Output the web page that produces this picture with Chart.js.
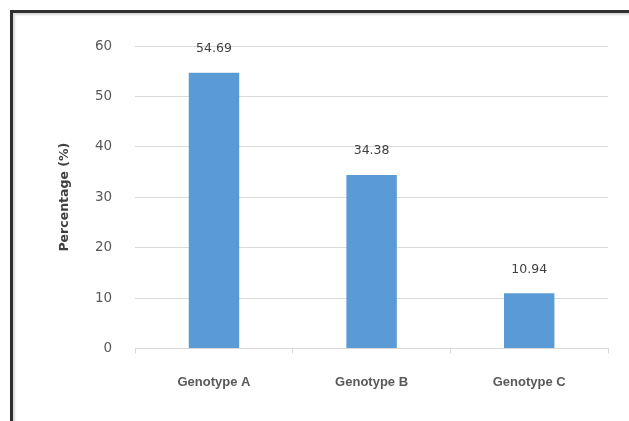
<!DOCTYPE html>
<html>
<head>
<meta charset="utf-8">
<script src="https://cdn.jsdelivr.net/npm/chart.js@4/dist/chart.umd.min.js"></script>
<style>
  html, body { margin: 0; padding: 0; background: #fff; }
  #wrap { position: relative; width: 629px; height: 421px; overflow: hidden; }
  #frame {
    position: absolute; left: 10px; top: 10px; right: -5px; bottom: -5px;
    border-top: 3px solid #2e2e2e; border-left: 3px solid #2e2e2e;
    box-shadow: inset 2px 2px 2px #d8d8d8;
  }
  canvas { position: absolute; left: 0; top: 0; }
</style>
</head>
<body>
<div id="wrap">
  <div id="frame"></div>
  <canvas id="myChart1" width="629" height="421"></canvas>
</div>
<script>
// 데이터
const categories = ['Genotype A', 'Genotype B', 'Genotype C'];
const percentages = [54.69, 34.38, 10.94];
const yTicks = [0, 10, 20, 30, 40, 50, 60];

// 막대 위 값 표시
const valueLabels = {
    id: 'valueLabels',
    afterDatasetsDraw(chart) {
        const ctx = chart.ctx;
        const meta = chart.getDatasetMeta(0);
        ctx.save();
        ctx.font = '12.5px "DejaVu Sans"';
        ctx.fillStyle = '#404040';
        ctx.textAlign = 'center';
        ctx.textBaseline = 'middle';
        meta.data.forEach((bar, i) => {
            ctx.fillText(percentages[i].toFixed(2), bar.x, bar.y - 24);
        });
        ctx.restore();
    }
};

const ctx = document.getElementById('myChart1').getContext('2d');
const config = {
    type: 'bar',
    data: {
        labels: categories,
        datasets: [{
            data: percentages,
            backgroundColor: '#5b9bd5',
            barPercentage: 0.32,
            categoryPercentage: 1
        }]
    },
    options: {
        responsive: false,
        animation: false,
        layout: { padding: { left: 35, right: 21, top: 46, bottom: 10 } },
        plugins: { legend: { display: false }, tooltip: { enabled: false } },
        scales: {
            x: {
                offset: true,
                grid: {
                    offset: true,
                    drawOnChartArea: false,
                    color: '#d9d9d9',
                    tickLength: 5
                },
                border: { color: '#d9d9d9' },
                ticks: {
                    padding: 21,
                    color: '#595959',
                    font: { family: 'Liberation Sans', size: 13, weight: 'bold' }
                }
            },
            y: {
                min: 0,
                max: 60,
                afterBuildTicks: axis => { axis.ticks = yTicks.map(v => ({ value: v })); },
                grid: { color: '#d9d9d9', drawTicks: false },
                border: { display: false },
                ticks: {
                    padding: 23,
                    color: '#595959',
                    font: { family: 'DejaVu Sans', size: 13.5 }
                },
                title: {
                    display: true,
                    text: 'Percentage (%)',
                    color: '#404040',
                    padding: { top: 22, bottom: 0 },
                    font: { family: 'DejaVu Sans', size: 12.5, weight: 'bold' }
                }
            }
        }
    },
    plugins: [valueLabels]
};
const myChart1 = new Chart(ctx, config);
</script>
</body>
</html>
